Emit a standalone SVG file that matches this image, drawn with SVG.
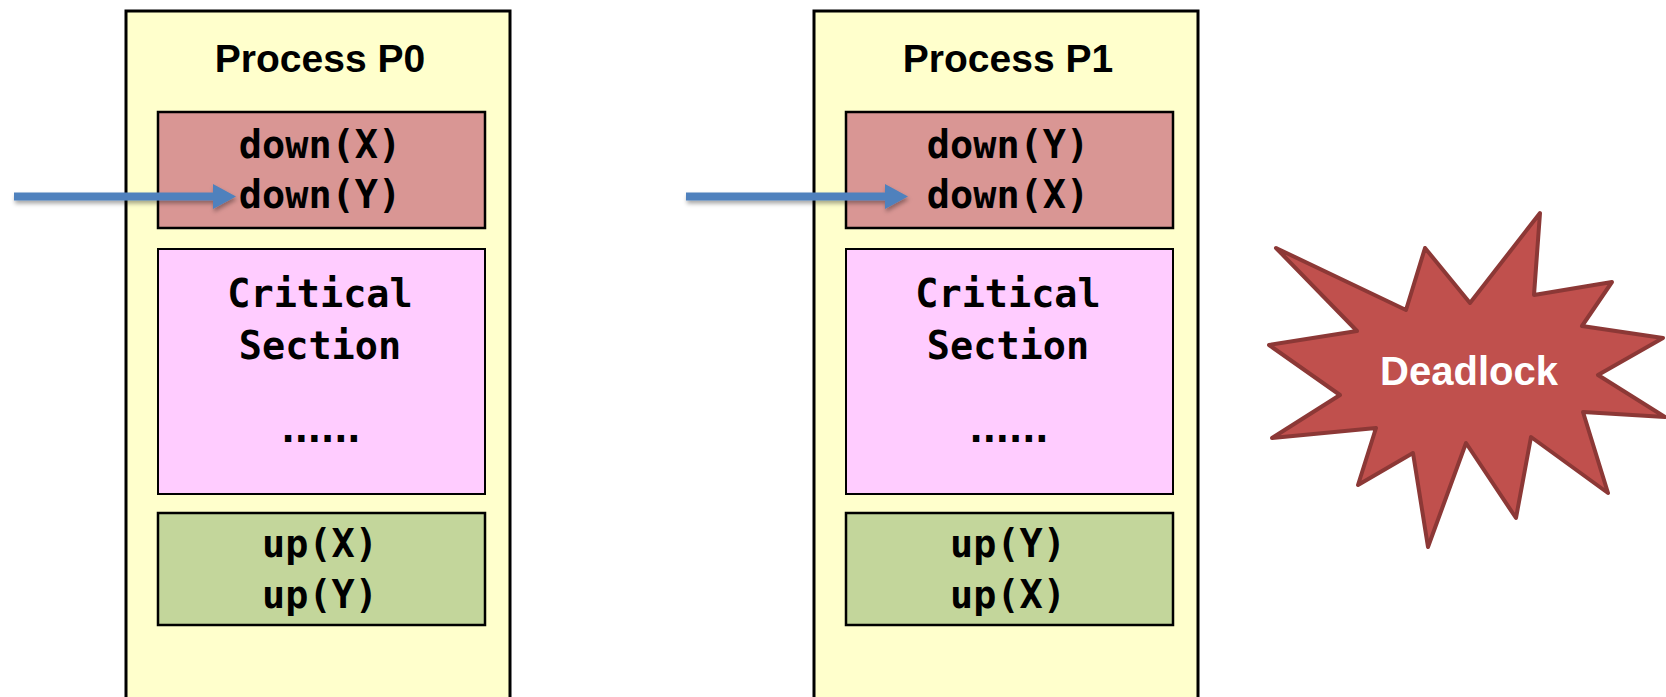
<svg xmlns="http://www.w3.org/2000/svg" width="1666" height="697" viewBox="0 0 1666 697">
<defs>
<style>
.outer{fill:#FFFFCC;stroke:#000;stroke-width:3}
.down{fill:#D99694;stroke:#000;stroke-width:2.5}
.crit{fill:#FFCCFF;stroke:#000;stroke-width:2}
.up{fill:#C3D69B;stroke:#000;stroke-width:2.5}
.title{font-family:"Liberation Sans",Arial,sans-serif;font-weight:bold;font-size:39px;fill:#000;text-anchor:middle}
.code{font-family:"DejaVu Sans Mono","Liberation Mono",monospace;font-weight:bold;font-size:38.5px;fill:#000;text-anchor:middle}
.dots{letter-spacing:-10px}
.arrow{stroke:#4F81BD;stroke-width:8;fill:none}
.dl{font-family:"Liberation Sans",Arial,sans-serif;font-weight:bold;font-size:40px;fill:#FFFFFF;text-anchor:middle}
</style>
<marker id="ah" markerUnits="userSpaceOnUse" markerWidth="26" markerHeight="26" refX="0" refY="12.5" orient="auto">
<path d="M0,0 L23,12.5 L0,25 Z" fill="#4F81BD"/>
</marker>
<filter id="sh" filterUnits="userSpaceOnUse" x="0" y="150" width="1000" height="100">
<feDropShadow dx="1" dy="3" stdDeviation="2" flood-color="#000" flood-opacity="0.35"/>
</filter>
</defs>
<g id="p0">
<rect class="outer" x="126" y="11" width="384" height="720"/>
<text class="title" x="320" y="72">Process P0</text>
<rect class="down" x="158" y="112" width="327" height="116"/>
<text class="code" x="320" y="158">down(X)</text>
<text class="code" x="320" y="208">down(Y)</text>
<rect class="crit" x="158" y="249" width="327" height="245"/>
<text class="code" x="320" y="307">Critical</text>
<text class="code" x="320" y="359">Section</text>
<text class="code dots" x="316" y="442">......</text>
<rect class="up" x="158" y="513" width="327" height="112"/>
<text class="code" x="320" y="557">up(X)</text>
<text class="code" x="320" y="608">up(Y)</text>
</g>
<g id="p1">
<rect class="outer" x="814" y="11" width="384" height="720"/>
<text class="title" x="1008" y="72">Process P1</text>
<rect class="down" x="846" y="112" width="327" height="116"/>
<text class="code" x="1008" y="158">down(Y)</text>
<text class="code" x="1008" y="208">down(X)</text>
<rect class="crit" x="846" y="249" width="327" height="245"/>
<text class="code" x="1008" y="307">Critical</text>
<text class="code" x="1008" y="359">Section</text>
<text class="code dots" x="1004" y="442">......</text>
<rect class="up" x="846" y="513" width="327" height="112"/>
<text class="code" x="1008" y="557">up(Y)</text>
<text class="code" x="1008" y="608">up(X)</text>
</g>
<g id="deadlock">
<polygon points="1276,248 1406,310 1425,248 1470,303 1540,213 1534,295 1612,282 1582,326 1663,338 1598,375 1665,417 1583,412 1608,493 1531,437 1516,518 1466,443 1428,547 1413,453 1358,485 1376,428 1272,438 1340,395 1269,345 1357,331" fill="#C0504D" stroke="#8C3836" stroke-width="4" stroke-linejoin="round"/>
<text class="dl" x="1469" y="385">Deadlock</text>
</g>
<g id="connectors" filter="url(#sh)">
<line class="arrow" x1="14" y1="196.5" x2="213" y2="196.5" marker-end="url(#ah)"/>
<line class="arrow" x1="686" y1="196.5" x2="885" y2="196.5" marker-end="url(#ah)"/>
</g>
</svg>
